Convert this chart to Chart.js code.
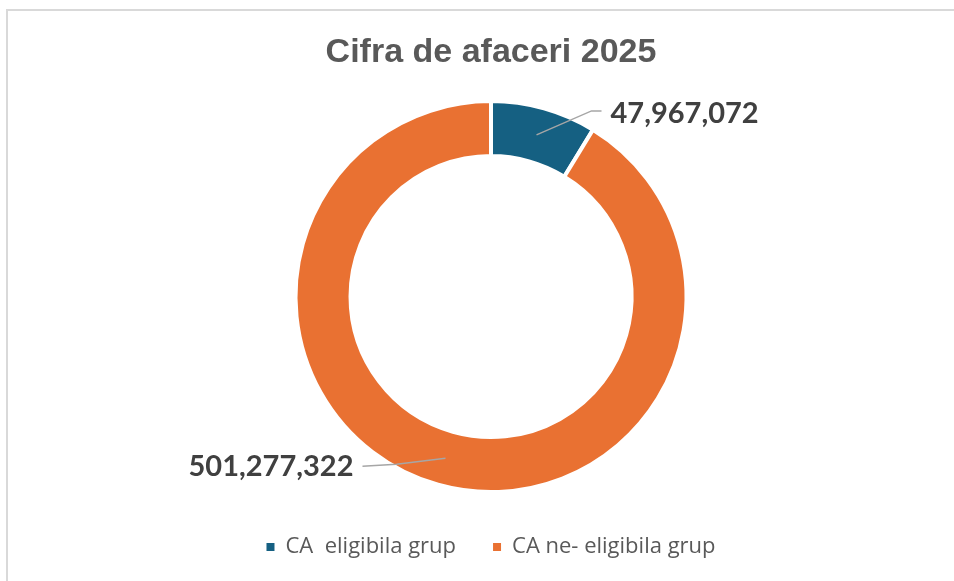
<!DOCTYPE html>
<html lang="ro">
<head>
    <meta charset="UTF-8">
    <title>Cifra de afaceri 2025</title>
    <script src="https://cdn.jsdelivr.net/npm/chart.js"></script>
    <style>
        html, body {
            margin: 0;
            padding: 0;
            background: #ffffff;
        }
        .frame {
            position: absolute;
            left: 6px;
            top: 9px;
            width: 1000px;
            height: 700px;
            border-left: 2px solid #d9d9d9;
            border-top: 2px solid #d9d9d9;
        }
        .chart-box {
            position: absolute;
            left: 0;
            top: 0;
            width: 954px;
            height: 581px;
        }
    </style>
</head>
<body>
    <div class="frame"></div>
    <div class="chart-box">
        <canvas id="donut"></canvas>
    </div>

    <script>
        // date
        const categorii = ['CA  eligibila grup', 'CA ne- eligibila grup'];
        const valori = [47967072, 501277322];
        const culori = ['#156082', '#E97132'];

        // eticheta fiecarei felii: cot al liniei si pozitia textului fata de mijlocul inelului
        const eticheteFelii = [
            { cot: [55, -24], capat: [65, -24], text: [74, -21], align: 'left' },
            { cot: [-49, 6], capat: [-83, 8], text: [-92, 8], align: 'right' }
        ];

        const etichetePlugin = {
            id: 'etichete',
            afterDatasetsDraw(chart) {
                const ctx = chart.ctx;
                const meta = chart.getDatasetMeta(0);
                meta.data.forEach((arc, i) => {
                    const p = arc.getProps(['x', 'y', 'startAngle', 'endAngle', 'innerRadius', 'outerRadius'], true);
                    const unghi = (p.startAngle + p.endAngle) / 2;
                    const r = (p.innerRadius + p.outerRadius) / 2;
                    const ax = p.x + Math.cos(unghi) * r;
                    const ay = p.y + Math.sin(unghi) * r;
                    const e = eticheteFelii[i];

                    ctx.save();
                    ctx.strokeStyle = '#a6a6a6';
                    ctx.lineWidth = 1.5;
                    ctx.beginPath();
                    ctx.moveTo(ax, ay);
                    ctx.lineTo(ax + e.cot[0], ay + e.cot[1]);
                    ctx.lineTo(ax + e.capat[0], ay + e.capat[1]);
                    ctx.stroke();

                    ctx.fillStyle = '#404040';
                    ctx.font = 'bold 29px Lato, "Open Sans", sans-serif';
                    ctx.textAlign = e.align;
                    ctx.textBaseline = 'middle';
                    ctx.fillText(valori[i].toLocaleString('en-US'), ax + e.text[0], ay + e.text[1]);
                    ctx.restore();
                });
            }
        };

        const ctx = document.getElementById('donut').getContext('2d');
        const chart = new Chart(ctx, {
            type: 'doughnut',
            data: {
                labels: categorii,
                datasets: [{
                    data: valori,
                    backgroundColor: culori,
                    borderColor: '#ffffff',
                    borderWidth: 4,
                    hoverOffset: 0
                }]
            },
            options: {
                responsive: true,
                maintainAspectRatio: false,
                animation: false,
                radius: 195.5,
                cutout: 144,
                layout: {
                    padding: { left: 28, right: 0, top: 0, bottom: 13 }
                },
                plugins: {
                    title: {
                        display: true,
                        text: 'Cifra de afaceri 2025',
                        color: '#595959',
                        font: { family: '"Liberation Sans", Arial, sans-serif', size: 34, weight: 'bold' },
                        padding: { top: 32.6, bottom: 20.8 }
                    },
                    legend: {
                        position: 'bottom',
                        labels: {
                            color: '#595959',
                            font: { family: '"Open Sans", sans-serif', size: 22 },
                            boxWidth: 8,
                            boxHeight: 8,
                            padding: 37,
                            // carourile din legenda fara chenarul alb al feliilor
                            generateLabels(chart) {
                                return Chart.overrides.doughnut.plugins.legend.labels.generateLabels(chart)
                                    .map(item => Object.assign(item, { lineWidth: 0, strokeStyle: item.fillStyle }));
                            }
                        }
                    },
                    tooltip: { enabled: false }
                }
            },
            plugins: [etichetePlugin]
        });
    </script>
</body>
</html>
